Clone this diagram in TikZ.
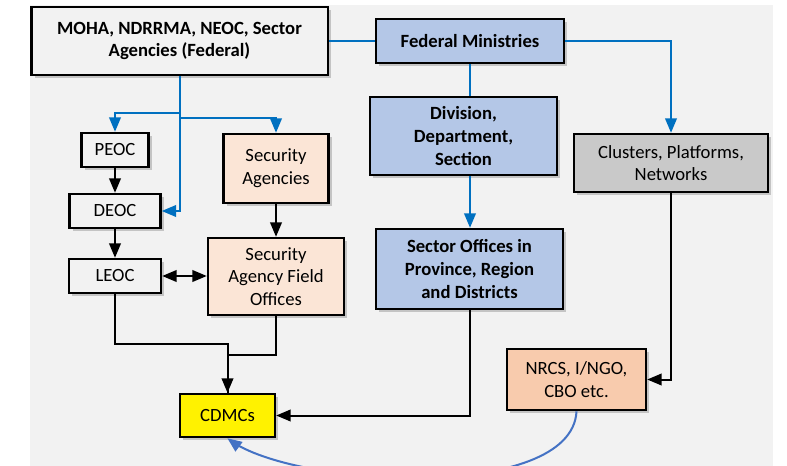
\documentclass[tikz,border=0pt]{standalone}
\usepackage{fontspec}
\setmainfont{Carlito}
\usetikzlibrary{arrows,shadows}
\definecolor{bggrey}{HTML}{F2F2F2}
\definecolor{fedblue}{HTML}{B4C7E7}
\definecolor{clustergrey}{HTML}{C9C9C9}
\definecolor{secpink}{HTML}{FBE5D6}
\definecolor{ngopeach}{HTML}{F8CBAD}
\definecolor{linkblue}{HTML}{0070C0}
\definecolor{curveblue}{HTML}{4472C4}
\tikzstyle{box} = [rectangle, draw=black, line width=2pt, text centered, align=center, inner sep=2pt, font=\fontsize{14}{17}\selectfont, drop shadow={shadow xshift=2.5pt, shadow yshift=-2.5pt, opacity=0.4}]
\tikzstyle{greybox} = [box, fill=bggrey]
\tikzstyle{bluebox} = [box, fill=fedblue, font=\fontsize{14}{17}\selectfont\bfseries]
\tikzstyle{pinkbox} = [box, fill=secpink]
\tikzstyle{peachbox} = [box, fill=ngopeach]
\tikzstyle{clusterbox} = [box, fill=clustergrey]
\tikzstyle{cdmcbox} = [box, fill=yellow]
\tikzstyle{arrow} = [line width=1.5pt, ->, >=triangle 45]
\tikzstyle{link} = [line width=1.5pt, -]
\tikzstyle{bluearrow} = [arrow, draw=linkblue]
\tikzstyle{bluelink} = [link, draw=linkblue]

\begin{document}
\begin{tikzpicture}[x=0.75pt, y=-0.75pt]
		\useasboundingbox (0,0) rectangle (787,466);
		\fill [bggrey] (30,5) rectangle (773,466);

		\node (moha) [greybox, font=\fontsize{14}{17}\selectfont\bfseries, minimum width=222.5pt, minimum height=51pt] at (179.5,41) {MOHA, NDRRMA, NEOC, Sector\\Agencies (Federal)};
		\node (fedmin) [bluebox, minimum width=141pt, minimum height=33pt] at (470,41) {Federal Ministries};
		\node (division) [bluebox, minimum width=140.25pt, minimum height=58.5pt] at (463.5,136) {Division,\\Department,\\Section};
		\node (clusters) [clusterbox, minimum width=145.5pt, minimum height=43.5pt] at (671,163) {Clusters, Platforms,\\Networks};
		\node (sector) [bluebox, minimum width=140.25pt, minimum height=60pt] at (469.5,269) {Sector Offices in\\Province, Region\\and Districts};
		\node (ngo) [peachbox, minimum width=104.25pt, minimum height=45.75pt] at (576.5,379.5) {NRCS, I/NGO,\\CBO etc.};
		\node (peoc) [greybox, minimum width=50.25pt, minimum height=25.5pt] at (115,150) {PEOC};
		\node (deoc) [greybox, minimum width=68.25pt, minimum height=25.5pt] at (115,211) {DEOC};
		\node (leoc) [greybox, minimum width=69pt, minimum height=25.5pt] at (115,276) {LEOC};
		\node (secag) [pinkbox, minimum width=78.75pt, minimum height=51.75pt] at (276,168.5) {Security\\Agencies};
		\node (safo) [pinkbox, minimum width=102pt, minimum height=57.75pt] at (276,276.5) {Security\\Agency Field\\Offices};
		\node (cdmc) [cdmcbox, minimum width=71.25pt, minimum height=32.25pt] at (227.5,415.5) {CDMCs};

		\coordinate (splitpeoc) at (179.5,113);
		\coordinate (splitsec) at (179.5,118);

		\draw [bluelink] (moha) -- (fedmin);
		\draw [bluearrow] (fedmin) -| (clusters);
		\draw [bluelink] (fedmin.south) -- (fedmin.south |- division.north);
		\draw [bluearrow] (fedmin.south |- division.south) -- (fedmin.south |- sector.north);
		\draw [bluearrow] (moha.south) |- (deoc.east);
		\draw [bluearrow] (splitpeoc) -| (peoc.north);
		\draw [bluearrow] (splitsec) -| (secag.north);
		\draw [arrow] (peoc) -- (deoc);
		\draw [arrow] (deoc) -- (leoc);
		\draw [arrow] (secag) -- (safo);
		\draw [arrow, <->] (leoc.east) -- (leoc.east -| safo.west);
		\draw [arrow] (leoc.south) -- ++(0,50) -| (cdmc.north);
		\draw [link] (safo.south) -- ++(0,39) -| (cdmc.north);
		\draw [arrow] (sector.south) |- (cdmc.east);
		\draw [arrow] (clusters.south) |- (ngo.east);
		\draw [arrow, draw=curveblue] (ngo.south) .. controls (572,502) and (295,488) .. (cdmc.south);
	\end{tikzpicture}
\end{document}
